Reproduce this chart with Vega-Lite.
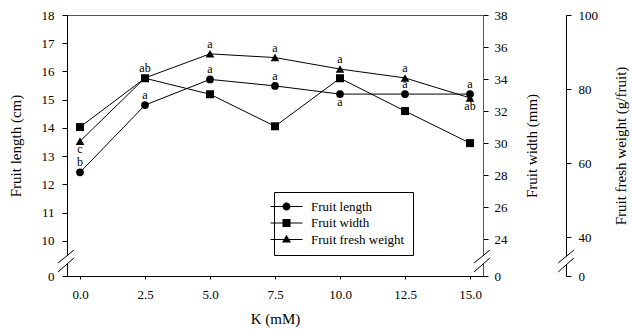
{
  "$schema": "https://vega.github.io/schema/vega-lite/v6.json",
  "width": 416,
  "height": 261,
  "autosize": {"type": "none"},
  "padding": {"left": 67, "top": 15, "right": 149, "bottom": 55},
  "config": {
    "view": {"stroke": "#555", "strokeWidth": 1},
    "font": "Liberation Serif",
    "axis": {
      "labelFont": "Liberation Serif",
      "titleFont": "Liberation Serif",
      "labelFontSize": 13,
      "titleFontSize": 15,
      "titleFontWeight": "normal",
      "labelColor": "black",
      "titleColor": "black",
      "tickColor": "black",
      "domainColor": "black",
      "grid": false
    },
    "legend": {
      "labelFont": "Liberation Serif",
      "labelFontSize": 13,
      "labelColor": "black",
      "strokeColor": "black",
      "fillColor": "white",
      "padding": 8,
      "rowPadding": 2.5,
      "symbolSize": 100,
      "symbolStrokeWidth": 0,
      "symbolFillColor": "black",
      "symbolOpacity": 1
    }
  },
  "datasets": {
    "main": [
      {"K": 0, "series": "Fruit length", "value": 12.43, "letter": "b", "side": "above"},
      {"K": 2.5, "series": "Fruit length", "value": 14.81, "letter": "a", "side": "above"},
      {"K": 5, "series": "Fruit length", "value": 15.72, "letter": "a", "side": "above"},
      {"K": 7.5, "series": "Fruit length", "value": 15.49, "letter": "a", "side": "above"},
      {"K": 10, "series": "Fruit length", "value": 15.2, "letter": "a", "side": "below"},
      {"K": 12.5, "series": "Fruit length", "value": 15.2, "letter": "a", "side": "above"},
      {"K": 15, "series": "Fruit length", "value": 15.2, "letter": "a", "side": "above"},
      {"K": 0, "series": "Fruit width", "value": 31.0, "letter": "", "side": "none"},
      {"K": 2.5, "series": "Fruit width", "value": 34.05, "letter": "", "side": "none"},
      {"K": 5, "series": "Fruit width", "value": 33.05, "letter": "", "side": "none"},
      {"K": 7.5, "series": "Fruit width", "value": 31.05, "letter": "", "side": "none"},
      {"K": 10, "series": "Fruit width", "value": 34.05, "letter": "", "side": "none"},
      {"K": 12.5, "series": "Fruit width", "value": 32.0, "letter": "", "side": "none"},
      {"K": 15, "series": "Fruit width", "value": 30.0, "letter": "", "side": "none"},
      {"K": 0, "series": "Fruit fresh weight", "value": 65.9, "letter": "c", "side": "below"},
      {"K": 2.5, "series": "Fruit fresh weight", "value": 83.0, "letter": "ab", "side": "above"},
      {"K": 5, "series": "Fruit fresh weight", "value": 89.5, "letter": "a", "side": "above"},
      {"K": 7.5, "series": "Fruit fresh weight", "value": 88.5, "letter": "a", "side": "above"},
      {"K": 10, "series": "Fruit fresh weight", "value": 85.4, "letter": "a", "side": "above"},
      {"K": 12.5, "series": "Fruit fresh weight", "value": 83.0, "letter": "a", "side": "above"},
      {"K": 15, "series": "Fruit fresh weight", "value": 77.6, "letter": "ab", "side": "below"}
    ],
    "breakLines": [
      {"K": -0.846, "K2": -0.23, "value": 9.22, "value2": 9.68},
      {"K": -0.846, "K2": -0.23, "value": 8.90, "value2": 9.40},
      {"K": 15.154, "K2": 15.77, "value": 9.22, "value2": 9.68},
      {"K": 15.154, "K2": 15.77, "value": 8.90, "value2": 9.40},
      {"K": 18.39, "K2": 19.0, "value": 9.22, "value2": 9.68},
      {"K": 18.39, "K2": 19.0, "value": 8.90, "value2": 9.40}
    ],
    "breakGaps": [
      {"K": -0.75, "K2": -0.3, "value": 9.13, "value2": 9.48},
      {"K": 15.25, "K2": 15.7, "value": 9.13, "value2": 9.48},
      {"K": 18.48, "K2": 18.93, "value": 9.13, "value2": 9.48}
    ]
  },
  "data": {"name": "main"},
  "encoding": {
    "x": {
      "field": "K",
      "type": "quantitative",
      "scale": {"domain": [-0.5, 15.5], "nice": false, "zero": false},
      "axis": {
        "title": "K (mM)",
        "values": [0, 2.5, 5, 7.5, 10, 12.5, 15],
        "format": ".1f",
        "tickSize": 3,
        "labelPadding": 9,
        "titlePadding": 10,
        "labelFlush": false
      }
    }
  },
  "layer": [
    {
      "encoding": {
        "y": {
          "field": "value",
          "type": "quantitative",
          "scale": {"domain": [8.76, 18], "nice": false, "zero": false},
          "axis": {
            "title": "Fruit length (cm)",
            "orient": "left",
            "values": [8.76, 10, 11, 12, 13, 14, 15, 16, 17, 18],
            "format": "d",
            "labelExpr": "datum.value < 9 ? '0' : datum.label",
            "tickSize": 5,
            "labelPadding": 8,
            "titlePadding": 18
          }
        }
      },
      "layer": [
        {
          "transform": [{"filter": "datum.series == 'Fruit length'"}],
          "mark": {"type": "line", "color": "black", "strokeWidth": 1}
        },
        {
          "transform": [{"filter": "datum.series == 'Fruit length'"}],
          "mark": {"type": "point", "shape": "circle", "filled": true, "opacity": 1, "size": 60, "color": "black"}
        },
        {
          "transform": [{"filter": "datum.series == 'Fruit length' && datum.side == 'above'"}],
          "mark": {"type": "text", "dy": -10, "fontSize": 12, "font": "Liberation Serif", "color": "black", "baseline": "middle"},
          "encoding": {"text": {"field": "letter"}}
        },
        {
          "transform": [{"filter": "datum.series == 'Fruit length' && datum.side == 'below'"}],
          "mark": {"type": "text", "dy": 8, "fontSize": 12, "font": "Liberation Serif", "color": "black", "baseline": "middle"},
          "encoding": {"text": {"field": "letter"}}
        },
        {
          "transform": [{"filter": "datum.K < -100"}],
          "mark": {"type": "point", "filled": true, "opacity": 1, "color": "black"},
          "encoding": {
            "shape": {
              "field": "series",
              "type": "nominal",
              "scale": {
                "domain": ["Fruit length", "Fruit width", "Fruit fresh weight"],
                "range": [
                  "M-1.2,-0.1H5.2V0.1H-1.2ZM2.8,0A0.8,0.8,0,1,1,1.2,0A0.8,0.8,0,1,1,2.8,0Z",
                  "M-1.2,-0.1H5.2V0.1H-1.2ZM1.2,-0.8H2.8V0.8H1.2Z",
                  "M-1.2,-0.1H5.2V0.1H-1.2ZM2,-0.95L2.9,0.6H1.1Z"
                ]
              },
              "legend": {
                "title": null,
                "orient": "none",
                "legendX": 207,
                "legendY": 177,
                "symbolOffset": -12,
                "labelOffset": 28
              }
            }
          }
        }
      ]
    },
    {
      "transform": [{"filter": "datum.series == 'Fruit width'"}],
      "encoding": {
        "y": {
          "field": "value",
          "type": "quantitative",
          "scale": {"domain": [21.7, 38], "nice": false, "zero": false},
          "axis": {
            "title": "Fruit width (mm)",
            "orient": "right",
            "values": [21.7, 24, 26, 28, 30, 32, 34, 36, 38],
            "format": "d",
            "labelExpr": "datum.value < 23 ? '0' : datum.label",
            "tickSize": 5,
            "labelPadding": 6,
            "titlePadding": 17,
            "titleAngle": 270,
            "titleBaseline": "top",
            "domainColor": "#555"
          }
        }
      },
      "layer": [
        {"mark": {"type": "line", "color": "black", "strokeWidth": 1}},
        {"mark": {"type": "point", "shape": "square", "filled": true, "opacity": 1, "size": 64, "color": "black"}}
      ]
    },
    {
      "transform": [{"filter": "datum.series == 'Fruit fresh weight'"}],
      "encoding": {
        "y": {
          "field": "value",
          "type": "quantitative",
          "scale": {"domain": [29.5, 100], "nice": false, "zero": false},
          "axis": {
            "title": "Fruit fresh weight (g/fruit)",
            "orient": "right",
            "offset": 83,
            "values": [29.5, 40, 60, 80, 100],
            "format": "d",
            "labelExpr": "datum.value < 35 ? '0' : datum.label",
            "tickSize": 5,
            "labelPadding": 7,
            "titlePadding": 16,
            "titleAngle": 270,
            "titleBaseline": "top"
          }
        }
      },
      "layer": [
        {"mark": {"type": "line", "color": "black", "strokeWidth": 1}},
        {"mark": {"type": "point", "shape": "triangle-up", "filled": true, "opacity": 1, "size": 75, "color": "black"}},
        {
          "transform": [{"filter": "datum.side == 'above'"}],
          "mark": {"type": "text", "dy": -10, "fontSize": 12, "font": "Liberation Serif", "color": "black", "baseline": "middle"},
          "encoding": {"text": {"field": "letter"}}
        },
        {
          "transform": [{"filter": "datum.side == 'below'"}],
          "mark": {"type": "text", "dy": 8, "fontSize": 12, "font": "Liberation Serif", "color": "black", "baseline": "middle"},
          "encoding": {"text": {"field": "letter"}}
        }
      ]
    },
    {
      "encoding": {
        "y": {
          "field": "value",
          "type": "quantitative",
          "scale": {"domain": [8.76, 18], "nice": false, "zero": false},
          "axis": null
        },
        "x2": {"field": "K2"},
        "y2": {"field": "value2"}
      },
      "layer": [
        {
          "data": {"name": "breakGaps"},
          "mark": {"type": "rule", "color": "white", "strokeWidth": 6}
        },
        {
          "data": {"name": "breakLines"},
          "mark": {"type": "rule", "color": "black", "strokeWidth": 1}
        }
      ]
    }
  ],
  "resolve": {"scale": {"y": "independent"}}
}
